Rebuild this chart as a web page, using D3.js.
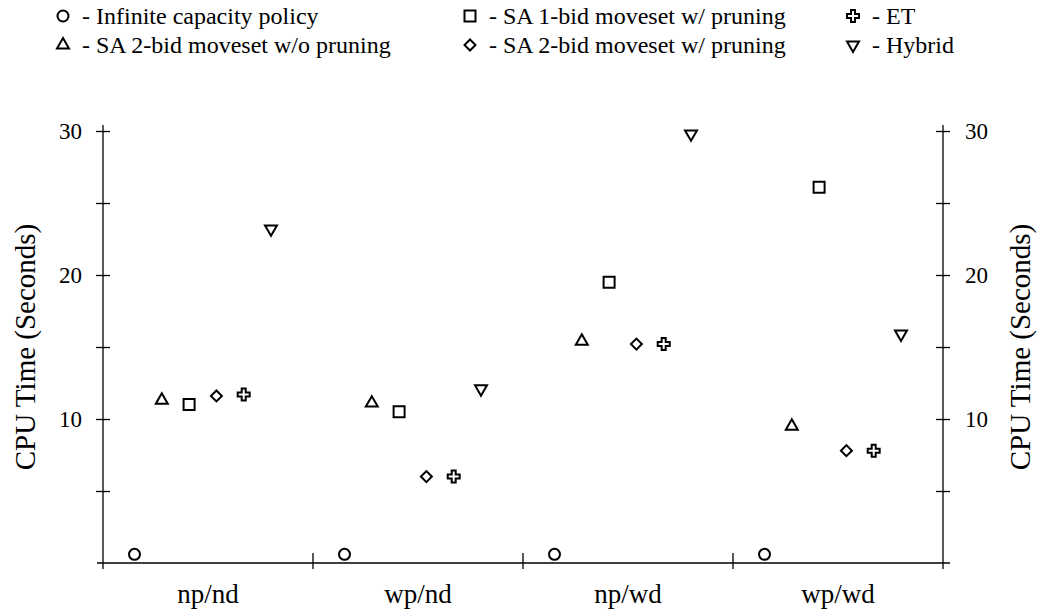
<!DOCTYPE html>
<html>
<head>
<meta charset="utf-8">
<script src="https://cdn.jsdelivr.net/npm/d3@7"></script>
<style>
  body { margin: 0; background: #fff; }
  svg text { font-family: "Liberation Serif", Tinos, "Times New Roman", "DejaVu Serif", serif; fill: #000; }
</style>
</head>
<body>
<div id="chart"></div>
<script>
const categories = ["np/nd", "wp/nd", "np/wd", "wp/wd"];
const series = [
  "Infinite capacity policy",
  "SA 2-bid moveset w/o pruning",
  "SA 1-bid moveset w/ pruning",
  "SA 2-bid moveset w/ pruning",
  "ET",
  "Hybrid"
];
// CPU seconds, one array per series, in category order
const infinite   = [0.6, 0.6, 0.6, 0.6];
const sa2NoPrune = [11.3, 11.1, 15.4, 9.5];
const sa1Prune   = [11.0, 10.5, 19.5, 26.1];
const sa2Prune   = [11.6, 6.0, 15.2, 7.8];
const et         = [11.7, 6.0, 15.2, 7.8];
const hybrid     = [23.2, 12.1, 29.8, 15.9];
const yTicks = [5, 10, 15, 20, 25, 30];

const values = [infinite, sa2NoPrune, sa1Prune, sa2Prune, et, hybrid];
const legendOrder = [0, 2, 4, 1, 3, 5];

const W = 1038, H = 614;
const mLeft = 103, mRight = 943, mTop = 131, mBottom = 563;
const serif = "'Liberation Serif', Tinos, 'Times New Roman', 'DejaVu Serif', serif";

const svg = d3.select("#chart").append("svg")
  .attr("width", W)
  .attr("height", H)
  .attr("font-family", serif);

const x = d3.scaleBand().domain(categories).range([mLeft, mRight]);
const bw = x.bandwidth();
const inner = d3.scalePoint().domain(series).range([bw * 0.15, bw * 0.8]);
const y = d3.scaleLinear().domain([0, 30]).range([mBottom, mTop]);

// marker shapes
const shapes = {
  "Infinite capacity policy":     { type: d3.symbolCircle, size: 95, rot: 0 },
  "SA 2-bid moveset w/o pruning": { type: d3.symbolTriangle, size: 62, rot: 0 },
  "SA 1-bid moveset w/ pruning":  { type: d3.symbolSquare, size: 121, rot: 0 },
  "SA 2-bid moveset w/ pruning":  { type: d3.symbolSquare, size: 60, rot: 45 },
  "ET":                           { type: d3.symbolCross, size: 80, rot: 0 },
  "Hybrid":                       { type: d3.symbolTriangle, size: 62, rot: 180 }
};
function marker(sel, name) {
  const s = shapes[name];
  sel.append("path")
    .attr("d", d3.symbol().type(s.type).size(s.size)())
    .attr("transform", `rotate(${s.rot})`)
    .attr("fill", "none")
    .attr("stroke", "#000")
    .attr("stroke-width", 2);
}

// axes
const axisG = svg.append("g").attr("stroke", "#000").attr("stroke-width", 1.3);
axisG.append("line").attr("x1", mLeft - 6).attr("x2", mRight + 7).attr("y1", mBottom).attr("y2", mBottom);
[mLeft, mRight].forEach(xx => {
  axisG.append("line").attr("x1", xx).attr("x2", xx).attr("y1", y(30) - 6).attr("y2", mBottom + 6);
});

const yLeft = d3.axisLeft(y).tickValues(yTicks).tickSize(7).tickSizeOuter(0)
  .tickFormat(d => d % 10 === 0 ? d : "");
const gL = svg.append("g").attr("transform", `translate(${mLeft},0)`).call(yLeft);
const yRight = d3.axisRight(y).tickValues(yTicks).tickSize(7).tickSizeOuter(0)
  .tickFormat(d => d % 10 === 0 ? d : "");
const gR = svg.append("g").attr("transform", `translate(${mRight},0)`).call(yRight);
[gL, gR].forEach((g, i) => {
  g.attr("font-family", serif);
  g.select(".domain").remove();
  g.selectAll(".tick line").attr("x1", i === 0 ? 7 : -7).attr("stroke", "#000").attr("stroke-width", 1.3);
  g.selectAll(".tick text")
    .attr("x", i === 0 ? -21 : 22)
    .attr("font-size", 23);
});

const xAxis = d3.axisBottom(x).tickSize(0).tickSizeOuter(0);
const gX = svg.append("g").attr("transform", `translate(0,${mBottom})`).call(xAxis)
  .attr("font-family", serif);
gX.select(".domain").remove();
gX.selectAll(".tick text")
  .attr("y", 40)
  .attr("dy", 0)
  .attr("font-size", 27);
// category separators
svg.append("g").selectAll("line")
  .data(categories.slice(1))
  .join("line")
  .attr("x1", d => x(d)).attr("x2", d => x(d))
  .attr("y1", mBottom - 10).attr("y2", mBottom + 6)
  .attr("stroke", "#000").attr("stroke-width", 1.3);

// axis titles
svg.append("text")
  .attr("transform", `translate(35,${(mTop + mBottom) / 2}) rotate(-90)`)
  .attr("text-anchor", "middle")
  .attr("font-size", 29)
  .text("CPU Time (Seconds)");
svg.append("text")
  .attr("transform", `translate(1030,${(mTop + mBottom) / 2}) rotate(-90)`)
  .attr("text-anchor", "middle")
  .attr("font-size", 29)
  .text("CPU Time (Seconds)");

// points
series.forEach((name, si) => {
  svg.append("g").selectAll("g")
    .data(values[si].map((v, ci) => ({ cat: categories[ci], v })))
    .join("g")
    .attr("transform", d => `translate(${x(d.cat) + inner(name)},${y(d.v)})`)
    .each(function() { marker(d3.select(this), name); });
});

// legend
const legX = [63, 470, 853];
const legY = [16, 45];
legendOrder.forEach((si, i) => {
  const col = i % 3, row = Math.floor(i / 3);
  const g = svg.append("g").attr("transform", `translate(${legX[col]},${legY[row]})`);
  marker(g, series[si]);
  g.append("text")
    .attr("x", 19)
    .attr("y", 8)
    .attr("font-size", 24)
    .text("- " + series[si]);
});
</script>
</body>
</html>
